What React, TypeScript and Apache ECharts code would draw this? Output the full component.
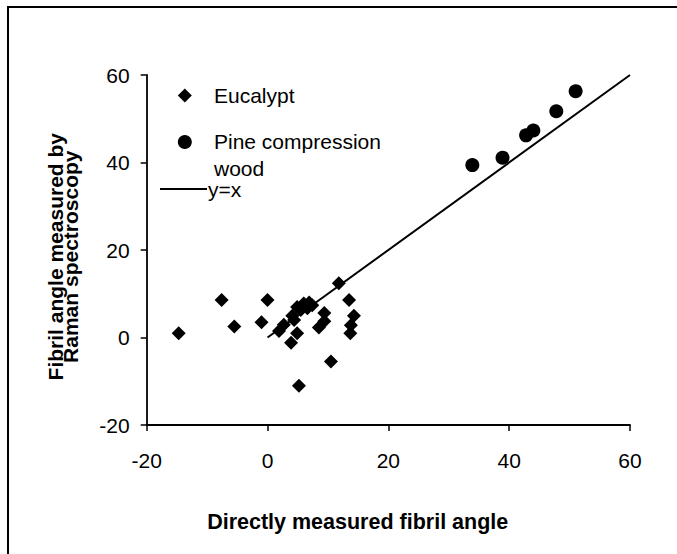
import React, { useEffect, useRef } from "react";
import * as echarts from "echarts";

const FONT = "'Liberation Sans', Arial, sans-serif";

const xTicks = [-20, 0, 20, 40, 60];
const yTicks = [-20, 0, 20, 40, 60];

const eucalyptX = [-14.7, -7.6, -5.5, -1.0, 0.0, 1.9, 2.7, 3.9, 4.9, 4.1, 4.4, 4.9, 5.5, 6.0, 6.6, 6.9, 7.4, 5.2, 8.5, 9.4, 9.4, 10.5, 11.8, 13.5, 14.3, 13.8, 13.7];
const eucalyptY = [1.0, 8.6, 2.5, 3.5, 8.6, 1.5, 2.9, -1.2, 1.0, 5.0, 4.0, 7.0, 6.3, 7.8, 6.7, 8.0, 7.4, -11.0, 2.3, 5.6, 3.7, -5.5, 12.4, 8.6, 5.0, 2.8, 1.0];

const pineX = [33.9, 38.9, 42.8, 44.0, 47.8, 51.0];
const pineY = [39.4, 41.1, 46.2, 47.3, 51.7, 56.3];

const lineX = [0, 60];
const lineY = [0, 60];

const seriesNames = ["Eucalypt", "Pine compression\nwood", "y=x"];
const xTitle = "Directly measured fibril angle";
const yTitle = "Fibril angle measured by\nRaman spectroscopy";

export default function App() {
  const ref = useRef<HTMLDivElement>(null);
  useEffect(() => {
    if (!ref.current) return;
    const chart = echarts.init(ref.current, undefined, { renderer: "svg" });
    const axisCommon = {
      type: "value" as const,
      min: -20,
      max: 60,
      interval: 20,
      splitLine: { show: false },
      axisLine: { show: true, onZero: false, lineStyle: { color: "#000", width: 1.8 } },
      axisTick: { show: true, inside: false, length: 6, lineStyle: { color: "#000", width: 1.5 } },
    };
    chart.setOption({
      animation: false,
      backgroundColor: "#fff",
      grid: { left: 146.7, right: 47, top: 75, bottom: 129 },
      xAxis: {
        ...axisCommon,
        axisLabel: {
          color: "#000",
          fontSize: 21,
          fontFamily: FONT,
          margin: 25,
          formatter: (v: number) => (xTicks.includes(v) ? String(v) : ""),
        },
      },
      yAxis: {
        ...axisCommon,
        axisLabel: {
          color: "#000",
          fontSize: 21,
          fontFamily: FONT,
          margin: 17,
          formatter: (v: number) => (yTicks.includes(v) ? String(v) : ""),
        },
      },
      series: [
        {
          name: seriesNames[0],
          type: "scatter",
          symbol: "diamond",
          symbolSize: 14,
          itemStyle: { color: "#000", opacity: 1 },
          data: eucalyptX.map((x, i) => [x, eucalyptY[i]]),
        },
        {
          name: seriesNames[1],
          type: "scatter",
          symbol: "circle",
          symbolSize: 14,
          itemStyle: { color: "#000", opacity: 1 },
          data: pineX.map((x, i) => [x, pineY[i]]),
        },
        {
          name: seriesNames[2],
          type: "line",
          showSymbol: false,
          symbol: "none",
          lineStyle: { color: "#000", width: 2 },
          data: lineX.map((x, i) => [x, lineY[i]]),
        },
      ],
      graphic: [
        {
          type: "rect",
          shape: { x: 8, y: 7, width: 720, height: 600 },
          style: { fill: "none", stroke: "#000", lineWidth: 2 },
          silent: true,
        },
        // legend
        {
          type: "polygon",
          shape: { points: [[184.8, 88.4], [191.8, 95.4], [184.8, 102.4], [177.8, 95.4]] },
          style: { fill: "#000" },
        },
        {
          type: "text",
          x: 214,
          y: 95,
          style: { text: seriesNames[0], fill: "#000", font: `21px ${FONT}`, textVerticalAlign: "middle" },
        },
        {
          type: "circle",
          shape: { cx: 184.8, cy: 142, r: 7 },
          style: { fill: "#000" },
        },
        {
          type: "text",
          x: 214,
          y: 141.7,
          style: { text: "Pine compression", fill: "#000", font: `21px ${FONT}`, textVerticalAlign: "middle" },
        },
        {
          type: "text",
          x: 214,
          y: 168.5,
          style: { text: "wood", fill: "#000", font: `21px ${FONT}`, textVerticalAlign: "middle" },
        },
        {
          type: "line",
          shape: { x1: 160, y1: 189, x2: 207, y2: 189 },
          style: { stroke: "#000", lineWidth: 2 },
        },
        {
          type: "text",
          x: 208,
          y: 189.5,
          style: { text: seriesNames[2], fill: "#000", font: `21px ${FONT}`, textVerticalAlign: "middle" },
        },
        // axis titles
        {
          type: "text",
          x: 357.7,
          y: 521.7,
          style: {
            text: xTitle,
            fill: "#000",
            font: `bold 21.5px ${FONT}`,
            textAlign: "center",
            textVerticalAlign: "middle",
          },
        },
        {
          type: "text",
          x: 63,
          y: 256.7,
          rotation: Math.PI / 2,
          style: {
            text: yTitle,
            fill: "#000",
            font: `bold 21px ${FONT}`,
            lineHeight: 15,
            textAlign: "center",
            textVerticalAlign: "middle",
          },
        },
      ],
    });
    return () => chart.dispose();
  }, []);
  return (
    <div
      ref={ref}
      style={{ position: "fixed", left: 0, top: 0, width: 677, height: 554, background: "#fff" }}
    />
  );
}
